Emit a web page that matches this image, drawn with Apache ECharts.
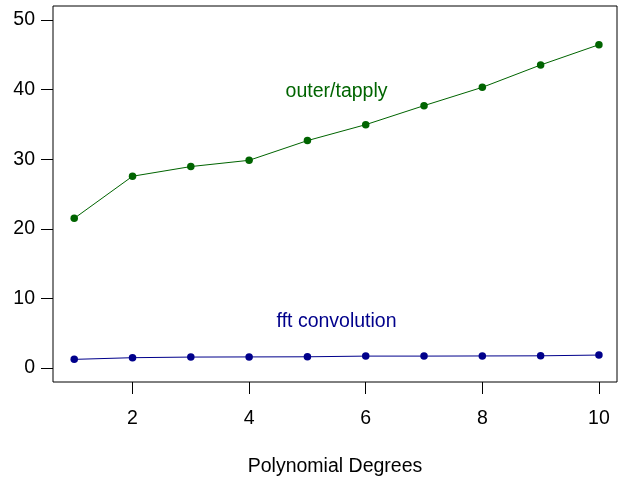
<!DOCTYPE html>
<html>
<head>
<meta charset="utf-8">
<script src="https://cdn.jsdelivr.net/npm/echarts@6/dist/echarts.min.js"></script>
<style>html,body{margin:0;padding:0;background:#fff}#c{width:620px;height:478px}</style>
</head>
<body>
<div id="c"></div>
<script>
const degrees = [1, 2, 3, 4, 5, 6, 7, 8, 9, 10];
const outerTapply = [21.5, 27.55, 28.94, 29.84, 32.67, 34.96, 37.69, 40.32, 43.53, 46.44];
const fftConvolution = [1.25, 1.49, 1.58, 1.6, 1.62, 1.72, 1.72, 1.74, 1.76, 1.87];
const xTicks = [2, 4, 6, 8, 10];
const yTicks = [0, 10, 20, 30, 40, 50];
const xTitle = 'Polynomial Degrees';
const labelOuter = {text: 'outer/tapply', x: 5.5, y: 40};
const labelFft = {text: 'fft convolution', x: 5.5, y: 7};

const FONT = 'Liberation Sans, Arial, sans-serif';
const GREEN = '#006400';
const BLUE = '#00008B';

const chart = echarts.init(document.getElementById('c'), null, {renderer: 'canvas'});

function lineSeries(vals, color) {
  return {
    type: 'line',
    data: degrees.map((d, i) => [d, vals[i]]),
    symbol: 'circle',
    symbolSize: 7.5,
    showSymbol: true,
    lineStyle: {color: color, width: 1},
    itemStyle: {color: color, opacity: 1},
    silent: true,
    animation: false
  };
}
function textSeries(lbl, color) {
  return {
    type: 'scatter',
    data: [[lbl.x, lbl.y]],
    symbolSize: 0,
    silent: true,
    animation: false,
    itemStyle: {opacity: 1, color: color},
    label: {
      show: true, position: 'inside', formatter: lbl.text, opacity: 1,
      color: color, fontSize: 19.5, fontFamily: FONT,
      align: 'center', verticalAlign: 'middle', offset: [0, 2]
    }
  };
}

chart.setOption({
  backgroundColor: '#fff',
  animation: false,
  grid: {left: 53, right: 3, top: 6, bottom: 96, show: true, borderColor: '#000', borderWidth: 1,
         backgroundColor: 'transparent', containLabel: false, outerBoundsMode: 'none'},
  xAxis: {
    type: 'value', min: 0.636, max: 10.31,
    splitLine: {show: false},
    axisLine: {show: false, onZero: false},
    axisTick: {show: true, length: 12, inside: false, customValues: xTicks, lineStyle: {color: '#000', width: 1}},
    axisLabel: {show: true, customValues: xTicks, margin: 27, color: '#000', fontSize: 19.5, fontFamily: FONT},
    name: xTitle, nameLocation: 'middle', nameGap: 75,
    nameTextStyle: {color: '#000', fontSize: 19.5, fontFamily: FONT}
  },
  yAxis: {
    type: 'value', min: -2, max: 52,
    splitLine: {show: false},
    axisLine: {show: false, onZero: false},
    axisTick: {show: true, length: 12, inside: false, customValues: yTicks, lineStyle: {color: '#000', width: 1}},
    axisLabel: {show: true, customValues: yTicks, margin: 18, color: '#000', fontSize: 19.5, fontFamily: FONT}
  },
  series: [
    lineSeries(outerTapply, GREEN),
    lineSeries(fftConvolution, BLUE),
    textSeries(labelOuter, GREEN),
    textSeries(labelFft, BLUE)
  ]
});
</script>
</body>
</html>
